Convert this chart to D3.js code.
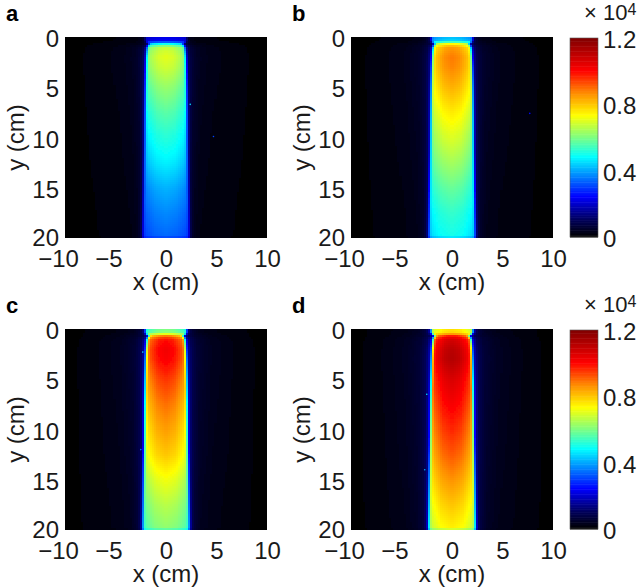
<!DOCTYPE html>
<html>
<head>
<meta charset="utf-8">
<script src="https://cdn.jsdelivr.net/npm/d3@7"></script>
<style>
  html, body { margin: 0; padding: 0; background: #fff; }
  svg { display: block; }
  text { font-family: "Liberation Sans", sans-serif; fill: #1a1a1a; }
</style>
</head>
<body>
<div id="chart"></div>
<script>
var width = 641, height = 588;

var depths = [0, 0.4, 0.7, 1, 2, 3, 5, 7.5, 10, 12.5, 15, 17.5, 19.7, 20];
// centre line intensity (x 10^4) for each panel
var centreA = [0.22, 0.24, 0.50, 0.68, 0.71, 0.69, 0.63, 0.57, 0.52, 0.47, 0.41, 0.37, 0.34, 0.30];
var centreB = [0.42, 0.45, 0.75, 0.86, 0.89, 0.88, 0.83, 0.76, 0.70, 0.64, 0.58, 0.53, 0.50, 0.44];
var centreC = [0.60, 0.62, 0.90, 1.00, 1.03, 1.02, 0.96, 0.90, 0.85, 0.80, 0.72, 0.66, 0.62, 0.55];
var centreD = [0.77, 0.79, 1.00, 1.08, 1.12, 1.13, 1.07, 1.02, 0.97, 0.92, 0.86, 0.80, 0.75, 0.66];
// half width of the bright column (cm) at the same depths
var halfWidth = [2.05, 2.05, 1.7, 1.85, 1.95, 1.98, 2.03, 2.08, 2.12, 2.17, 2.22, 2.27, 2.32, 2.32];

// fraction of centre intensity against distance from the column edge (cm)
var edgeOffset = [-2.3, -1.2, -0.7, -0.35, -0.15, 0, 0.15, 0.3, 0.6, 1.2, 2.5, 4.5, 8];
var edgeLevel = [1, 0.97, 0.93, 0.9, 0.84, 0.58, 0.27, 0.15, 0.09, 0.055, 0.035, 0.02, 0];

// stray bright pixels: [x, y, value]
var speckA = [[2.4, 6.7, 0.45], [4.7, 9.9, 0.3]];
var speckB = [[7.7, 7.6, 0.25]];
var speckC = [[-2.3, 2.3, 0.45], [-2.5, 12, 0.35]];
var speckD = [[-2.5, 6.5, 0.45], [-2.7, 14, 0.4]];

var xTicks = [-10, -5, 0, 5, 10];
var yTicks = [0, 5, 10, 15, 20];
var barTicks = [0, 0.4, 0.8, 1.2];
var panelNames = ["a", "b", "c", "d"];
var panelCentres = [centreA, centreB, centreC, centreD];
var panelSpecks = [speckA, speckB, speckC, speckD];

// colormap stops
var colorStops = [0, 0.1, 0.24, 0.36, 0.48, 0.6, 0.73, 0.86, 1.0, 1.2];
var colorValues = ["#000000", "#00005a", "#0000ff", "#0080ff", "#00ffff", "#80ff80", "#ffff00", "#ff9000", "#ff0000", "#7d0000"];
var color = d3.scaleLinear().domain(colorStops).range(colorValues).clamp(true);

var svg = d3.select("#chart").append("svg")
  .attr("width", width)
  .attr("height", height);

var defs = svg.append("defs");
defs.append("filter").attr("id", "soft")
  .attr("x", "-5%").attr("y", "-5%").attr("width", "110%").attr("height", "110%")
  .append("feGaussianBlur").attr("stdDeviation", 0.65);

var panelW = 202, panelH = 201;
var lefts = [65, 351, 65, 351];
var tops = [37, 37, 329, 329];

var x = d3.scaleLinear().domain([-10, 10]).range([0, panelW]);
var y = d3.scaleLinear().domain([0, 20]).range([0, panelH]);
var widthAt = d3.scaleLinear().domain(depths).range(halfWidth);
var levelAt = d3.scaleLinear().domain(edgeOffset).range(edgeLevel).clamp(true);

function drawPanel(i) {
  var g = svg.append("g").attr("transform", "translate(" + lefts[i] + "," + tops[i] + ")");
  var centreAt = d3.scaleLinear().domain(depths).range(panelCentres[i]);

  defs.append("clipPath").attr("id", "clip" + i)
    .append("rect").attr("width", panelW).attr("height", panelH);

  var step = 0.2;
  var cells = [];
  d3.range(0, 20, step).forEach(function(yy) {
    d3.range(-10, 10, step).forEach(function(xx) {
      var mid = xx + step / 2, midY = yy + step / 2;
      var v = centreAt(midY) * levelAt(Math.abs(mid) - widthAt(midY));
      if (v > 0.004) cells.push({x: xx, y: yy, v: v});
    });
  });

  var plot = g.append("g").attr("clip-path", "url(#clip" + i + ")");
  plot.append("rect").attr("width", panelW).attr("height", panelH).attr("fill", "#000");
  var heat = plot.append("g").attr("filter", "url(#soft)");
  heat.selectAll("rect")
    .data(cells)
    .join("rect")
    .attr("shape-rendering", "crispEdges")
    .attr("x", function(d) { return x(d.x); })
    .attr("y", function(d) { return y(d.y); })
    .attr("width", x(step) - x(0) + 0.2)
    .attr("height", y(step) - y(0) + 0.2)
    .attr("fill", function(d) { return color(d.v); });
  heat.selectAll("circle")
    .data(panelSpecks[i])
    .join("circle")
    .attr("cx", function(d) { return x(d[0]); })
    .attr("cy", function(d) { return y(d[1]); })
    .attr("r", 0.8)
    .attr("fill", function(d) { return color(d[2]); });

  var xAxis = d3.axisBottom(x).tickValues(xTicks).tickSize(0).tickPadding(12)
    .tickFormat(function(d) { return d < 0 ? "\u2212" + (-d) : d; });
  var gx = g.append("g").attr("transform", "translate(0," + panelH + ")").call(xAxis);
  var yAxis = d3.axisLeft(y).tickValues(yTicks).tickSize(0).tickPadding(6);
  var gy = g.append("g").call(yAxis);
  [gx, gy].forEach(function(a) {
    a.select(".domain").remove();
    a.selectAll("text").style("font-size", "24px");
    a.attr("font-family", null).attr("font-size", null);
  });
  // the minus sign hangs left of the tick, digits stay centred on it
  gx.selectAll("text").attr("dx", function(d) { return d < 0 ? -7 : 0; });
  gy.selectAll("text").attr("dy", function(d) { return d === 20 ? "0.3em" : "0.4em"; });

  g.append("text")
    .attr("x", panelW / 2).attr("y", panelH + 52)
    .attr("text-anchor", "middle")
    .style("font-size", "24px")
    .text("x (cm)");
  g.append("text")
    .attr("transform", "translate(-41," + (panelH / 2) + ") rotate(-90)")
    .attr("text-anchor", "middle")
    .style("font-size", "24px")
    .text("y (cm)");
  g.append("text")
    .attr("x", -59).attr("y", -16)
    .style("font-size", "22px").style("font-weight", "bold").style("fill", "#000")
    .text(panelNames[i]);
}

function drawColorbar(top) {
  var barX = 570, barW = 28, barH = 199;
  var g = svg.append("g").attr("transform", "translate(" + barX + "," + top + ")");
  var v = d3.scaleLinear().domain([0, 1.2]).range([barH, 0]);
  var levels = d3.range(0, 1.2, 0.01);
  g.selectAll("rect")
    .data(levels)
    .join("rect")
    .attr("x", 0)
    .attr("y", function(d) { return v(d + 0.01); })
    .attr("width", barW)
    .attr("height", v(0) - v(0.01) + 0.5)
    .attr("fill", function(d) { return color(d); });
  g.append("rect")
    .attr("width", barW).attr("height", barH)
    .attr("fill", "none").attr("stroke", "#555").attr("stroke-width", 0.6);

  var axis = d3.axisRight(v).tickValues(barTicks).tickSize(0).tickPadding(5)
    .tickFormat(function(d) { return d === 0 ? "0" : d3.format(".1f")(d); });
  var ga = g.append("g").attr("transform", "translate(" + barW + ",0)").call(axis);
  ga.select(".domain").remove();
  ga.attr("font-family", null).attr("font-size", null);
  ga.selectAll("text").style("font-size", "24px").attr("dy", "0.4em");

  var mult = g.append("text").attr("x", 14).attr("y", -18).style("font-size", "22px");
  mult.append("tspan").text("\u00d7 10");
  mult.append("tspan").attr("dy", -5).style("font-size", "16px").text("4");
}

d3.range(4).forEach(drawPanel);
drawColorbar(38);
drawColorbar(330);
</script>
</body>
</html>
